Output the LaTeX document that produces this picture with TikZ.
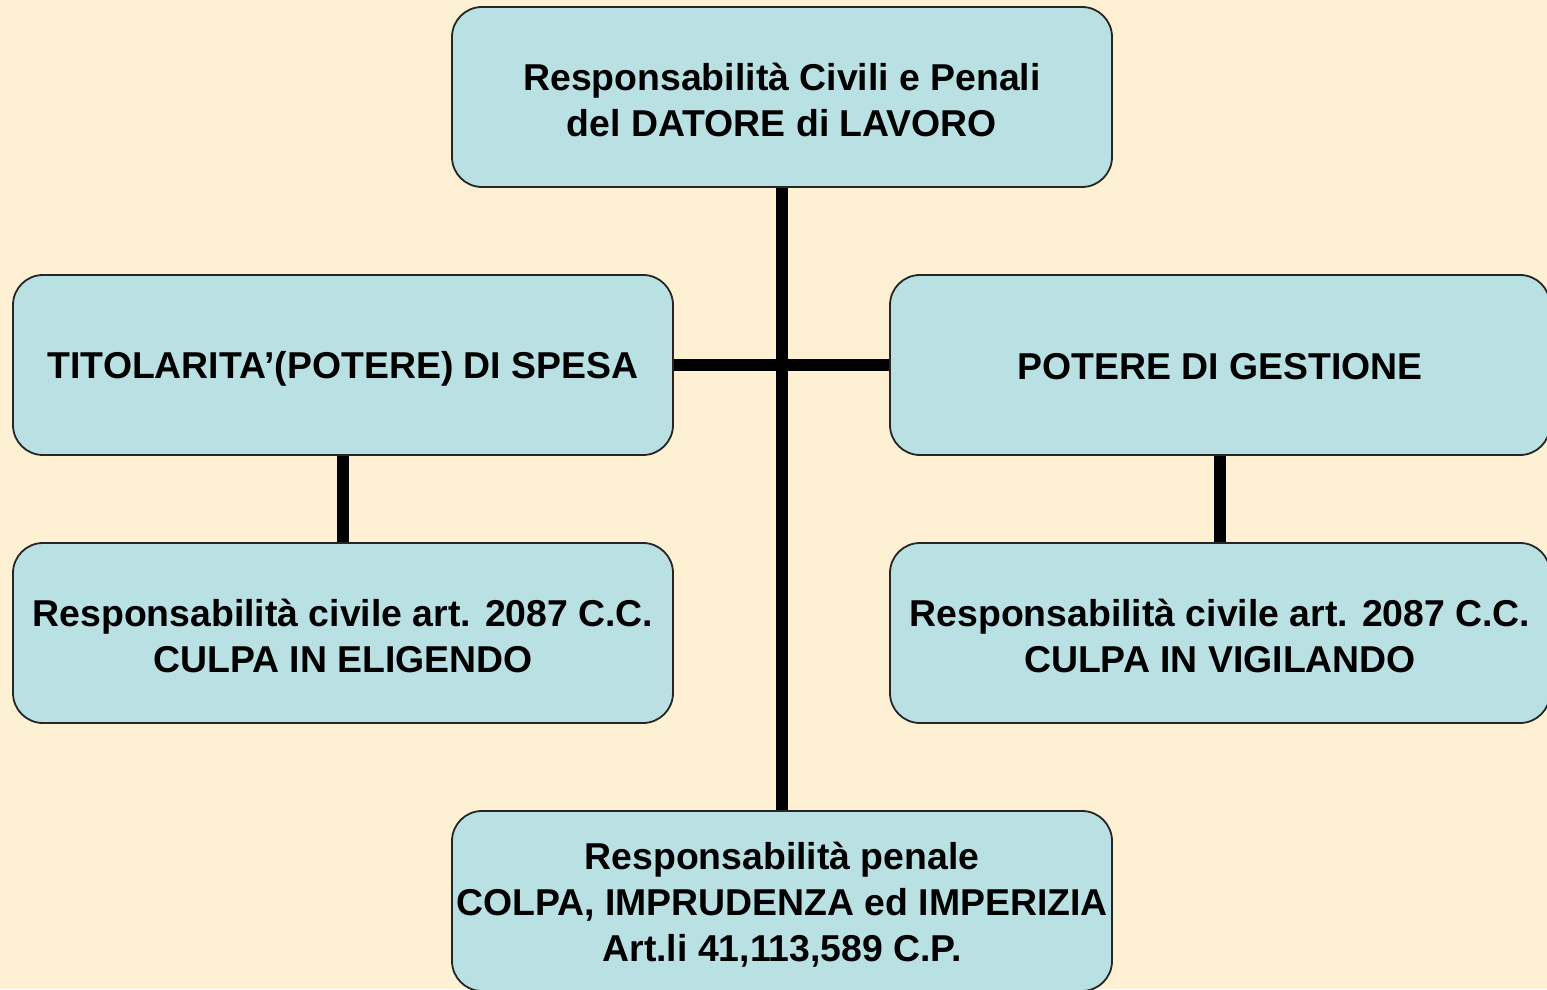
\documentclass[tikz,border=0pt]{standalone}
\usepackage{fontspec}
\setmainfont{Liberation Sans}
\definecolor{bgcream}{HTML}{FDF0D3}
\definecolor{boxblue}{HTML}{B9E0E3}
\begin{document}
\begin{tikzpicture}[x=1pt,y=1pt,
  box/.style={draw=black!85, line width=1.8pt, fill=boxblue, rounded corners=30pt,
    minimum width=660pt, minimum height=180pt, inner sep=0pt},
  txt/.style={align=center, inner sep=0pt,
    font=\fontsize{37.4}{46}\selectfont\bfseries},
  link/.style={line width=12pt, black}]
\useasboundingbox (0,0) rectangle (1547,989);
\clip (0,0) rectangle (1547,989);
\fill[bgcream] (0,0) rectangle (1547,989);
\node[box] (top) at (782,892) {};
\node[box] (lm) at (343,624) {};
\node[box] (rm) at (1220,624) {};
\node[box] (lb) at (343,356) {};
\node[box] (rb) at (1220,356) {};
\node[box] (bot) at (782,88) {};
\node[txt] (toptxt) at ([yshift=-3pt]top.center) {Responsabilità Civili e Penali\\del DATORE di LAVORO};
\node[txt] (lmtxt) at ([yshift=-4pt]lm.center) {TITOLARITA’(POTERE) DI SPESA};
\node[txt] (rmtxt) at ([yshift=-1.5pt]rm.center) {POTERE DI GESTIONE};
\node[txt] (lbtxt) at ([yshift=-3pt]lb.center) {Responsabilità civile art. 2087 C.C.\\CULPA IN ELIGENDO};
\node[txt] (rbtxt) at ([yshift=-3pt]rb.center) {Responsabilità civile art. 2087 C.C.\\CULPA IN VIGILANDO};
\node[txt] (bottxt) at ([yshift=-4pt]bot.center) {Responsabilità penale\\COLPA, IMPRUDENZA ed IMPERIZIA\\Art.li 41,113,589 C.P.};
\draw[link] (top.south) -- (bot.north);
\draw[link] (lm.east) -- (rm.west);
\draw[link] (lm.south) -- (lb.north);
\draw[link] (rm.south) -- (rb.north);
\end{tikzpicture}
\end{document}
